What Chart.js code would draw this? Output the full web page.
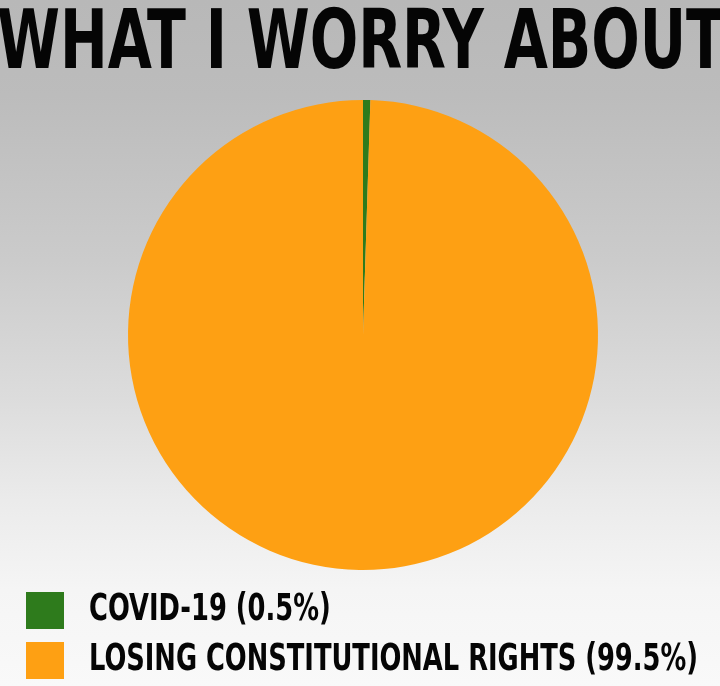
<!DOCTYPE html>
<html>
<head>
<meta charset="utf-8">
<script src="https://cdn.jsdelivr.net/npm/chart.js@4/dist/chart.umd.min.js"></script>
<style>
  html, body { margin: 0; padding: 0; }
  body {
    width: 720px; height: 686px; overflow: hidden; position: relative;
    background: linear-gradient(to bottom, #b8b8b8 0%, #bcbcbc 14%, #cbcbcb 38%, #dcdcdc 58%, #ebebeb 73%, #f5f5f5 86%, #f9f9f9 100%);
    font-family: 'Liberation Sans Narrow', 'DejaVu Sans Condensed', 'Liberation Sans', sans-serif;
  }
  #title {
    position: absolute; left: 361px; top: 0; 
    font-weight: bold; font-size: 82px; line-height: 82px; color: #050505;
    white-space: nowrap; transform-origin: 0 0;
  }
  #wrap { position: absolute; left: 0; top: 0; width: 720px; height: 686px; }
  #legend { position: absolute; left: 0; top: 0; width: 720px; height: 686px; pointer-events: none; }
  .box { position: absolute; left: 26px; width: 38px; height: 37px; }
  .lbl {
    position: absolute; left: 89px; font-weight: bold; font-size: 37px; line-height: 37px;
    color: #050505; white-space: nowrap; transform-origin: 0 0;
  }
</style>
</head>
<body>
<div id="wrap"><canvas id="c" width="720" height="686"></canvas></div>
<div id="title">WHAT I WORRY ABOUT</div>
<div id="legend"></div>
<script>
const titleText = "WHAT I WORRY ABOUT";
const categories = ["COVID-19 (0.5%)", "LOSING CONSTITUTIONAL RIGHTS (99.5%)"];
const values = [0.5, 99.5];
const colors = ["#2E7B1C", "#FEA013"];

// Title: condensed to the width of the original heading
const t = document.getElementById('title');
t.textContent = titleText;
const tw = t.getBoundingClientRect().width;
const tsx = 728 / tw;
t.style.transform = 'translateX(' + (-364) + 'px) scaleX(' + tsx + ')';
t.style.top = '-1px';

// Legend (HTML, built from the data arrays)
const legend = document.getElementById('legend');
const rowTops = [592, 642];
const spans = [];
categories.forEach((cat, i) => {
  const b = document.createElement('div');
  b.className = 'box';
  b.style.top = rowTops[i] + 'px';
  b.style.background = colors[i];
  legend.appendChild(b);
  const s = document.createElement('div');
  s.className = 'lbl';
  s.textContent = cat;
  s.style.top = (rowTops[i] - 3) + 'px';
  legend.appendChild(s);
  spans.push(s);
});
const longW = spans[1].getBoundingClientRect().width;
const lsx = 609 / longW;
spans.forEach(s => { s.style.transform = 'scaleX(' + lsx + ')'; });

new Chart(document.getElementById('c'), {
  type: 'pie',
  data: {
    labels: categories,
    datasets: [{
      data: values,
      backgroundColor: colors,
      borderWidth: 0,
      radius: 235
    }]
  },
  options: {
    responsive: false,
    animation: false,
    layout: { padding: { top: 100, left: 128, right: 122, bottom: 116 } },
    plugins: {
      tooltip: { enabled: false },
      title: { display: false },
      legend: { display: false }
    }
  }
});
</script>
</body>
</html>
